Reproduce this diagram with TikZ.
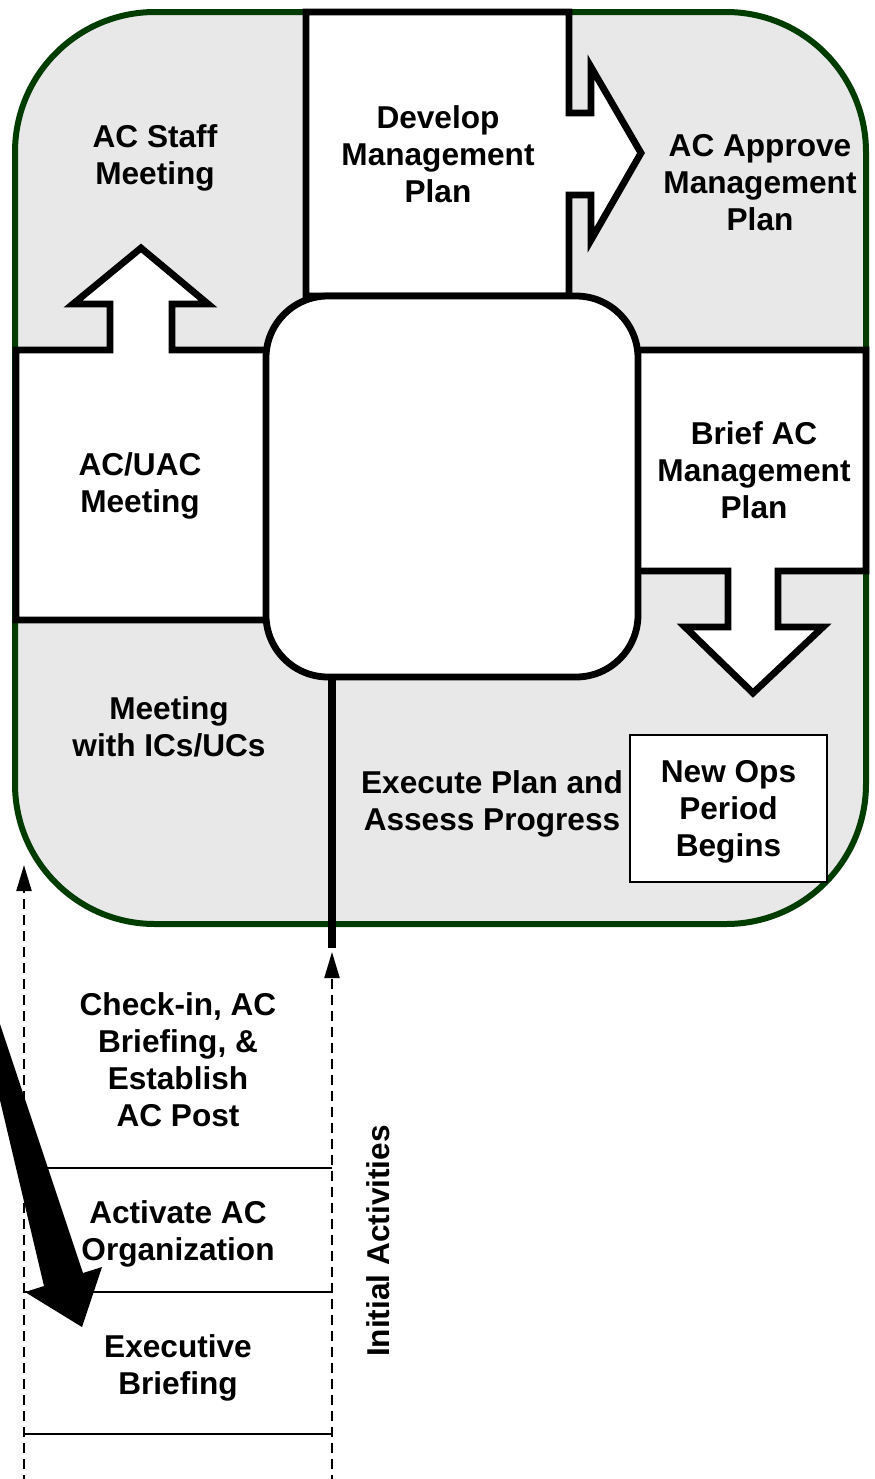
\documentclass[tikz,border=0pt]{standalone}
\usepackage{fontspec}
\setmainfont{Liberation Sans}
\usetikzlibrary{arrows.meta}
\definecolor{acgreen}{RGB}{0,60,0}
\definecolor{acgrey}{RGB}{232,232,232}

\begin{document}
\begin{tikzpicture}[
        x=0.5pt, y=-0.5pt,
        panel/.style={draw=black, fill=white, line width=3.4pt, line join=miter},
        hub/.style={draw, fill=white, line width=3.4pt, rounded corners=31pt, minimum width=186pt, minimum height=190.5pt, inner sep=0pt},
        tag/.style={align=center, font=\fontsize{15.8}{18.5}\selectfont\bfseries},
        opsbox/.style={draw, fill=white, line width=1pt, minimum width=98.5pt, minimum height=73.5pt, inner sep=0pt},
        dashline/.style={line width=1.1pt, dash pattern=on 5pt off 3pt, -{Triangle[length=13pt,width=7.5pt]}},
        rule/.style={line width=1pt},
        stem/.style={line width=3.8pt}
    ]
        \useasboundingbox (0,0) rectangle (874,1479);

        % cycle background
        \draw [acgreen, fill=acgrey, line width=3pt, rounded corners=70pt] (15,12) rectangle (866,924);

        % panels with their arrows
        \draw [panel] (306,12) -- (569,12) -- (569,113) -- (591,113) -- (591,67) -- (641,153)
            -- (591,240) -- (591,195) -- (569,195) -- (569,296) -- (306,296) -- cycle;
        \draw [panel] (16,350) -- (110,350) -- (110,304) -- (73,304) -- (141,248) -- (208,304)
            -- (172,304) -- (172,350) -- (300,350) -- (300,620) -- (16,620) -- cycle;
        \draw [panel] (600,350) -- (866,350) -- (866,571) -- (778,571) -- (778,627) -- (823,627)
            -- (753,693) -- (685,627) -- (728,627) -- (728,571) -- (600,571) -- cycle;

        \node [hub] (hubbox) at (452,486.5) {};

        \coordinate (stemend) at (332,948);
        \draw [stem] (stemend |- hubbox.south) -- (stemend);

        \node [opsbox] (newops) at (728.5,808.5) {};
        \node [tag] (newopstext) at (728.5,812) {New Ops\\Period\\Begins};

        \node [tag] (staff) at (155,158) {AC Staff\\Meeting};
        \node [tag] (develop) at (438,154) {Develop\\Management\\Plan};
        \node [tag] (approve) at (760,183) {AC Approve\\Management\\Plan};
        \node [tag] (uac) at (140,486) {AC/UAC\\Meeting};
        \node [tag] (brief) at (754,470) {Brief AC\\Management\\Plan};
        \node [tag] (icmeet) at (169,727) {Meeting\\with ICs/UCs};
        \node [tag] (execute) at (492,804) {Execute Plan and\\Assess Progress};

        % initial activities
        \node [tag] (checkin) at (178,1060) {Check-in, AC\\Briefing, \&\\Establish\\AC Post};
        \node [tag] (activate) at (178,1234) {Activate AC\\Organization};
        \node [tag] (execbrief) at (178,1368) {Executive\\Briefing};
        \node [tag, rotate=90] (initial) at (378,1241) {Initial Activities};

        \foreach \yy in {1168,1292,1434}
            \draw [rule] (24,\yy) -- (332,\yy);

        \coordinate (lbase) at (24,1485);
        \coordinate (ltip) at (24,865);
        \coordinate (rbase) at (332,1485);
        \coordinate (rtip) at (332,952);
        \draw [dashline] (lbase) -- (ltip);
        \draw [dashline] (rbase) -- (rtip);

        \begin{scope}
            \clip (0,0) rectangle (874,1479);
            \fill (-8,1000) -- (83,1273) -- (102,1267) -- (82,1327) -- (25,1292) -- (44,1286) -- (-10,1058) -- cycle;
        \end{scope}
    \end{tikzpicture}
\end{document}
